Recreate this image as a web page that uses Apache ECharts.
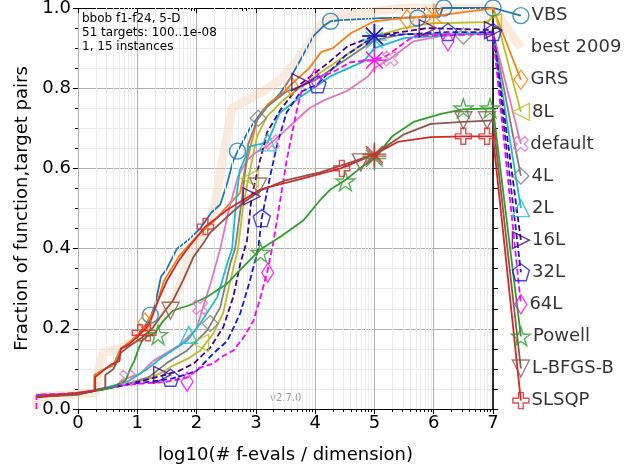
<!DOCTYPE html>
<html>
<head>
<meta charset="utf-8">
<script src="https://cdn.jsdelivr.net/npm/echarts@6.0.0/dist/echarts.min.js"></script>
<style>
  html, body { margin: 0; padding: 0; background: #fff; }
  #chart { width: 631px; height: 473px; }
</style>
</head>
<body>
<div id="chart"></div>
<script>
'use strict';

// right hand labels, top to bottom, and the height each one sits at
var names = ['VBS', 'best 2009', 'GRS', '8L', 'default', '4L', '2L', '16L', '32L', '64L', 'Powell', 'L-BFGS-B', 'SLSQP'];
var labelLevels = [0.981, 0.901, 0.821, 0.741, 0.661, 0.581, 0.501, 0.421, 0.341, 0.261, 0.181, 0.101, 0.021];

var xTickLabels = ['0', '1', '2', '3', '4', '5', '6', '7'];
var yTickLabels = ['0.0', '0.2', '0.4', '0.6', '0.8', '1.0'];

// ECDF curves: [log10(# f-evals / dimension), fraction of function,target pairs]
var vbs = [[-0.7, 0.035], [0, 0.038], [0.28, 0.045], [0.28, 0.085], [0.45, 0.1], [0.6, 0.11], [0.72, 0.15], [0.9, 0.17], [1.05, 0.19], [1.2, 0.22], [1.3, 0.26], [1.4, 0.33], [1.5, 0.35], [1.67, 0.4], [1.85, 0.42], [2.06, 0.45], [2.25, 0.49], [2.4, 0.51], [2.52, 0.565], [2.62, 0.62], [2.7, 0.645], [2.9, 0.7], [3.12, 0.745], [3.4, 0.785], [3.58, 0.825], [3.75, 0.87], [3.97, 0.93], [4.14, 0.955], [4.26, 0.967], [4.43, 0.97], [5.1, 0.975], [6.1, 0.978], [6.15, 1.0], [7, 1.0]];
var best2009 = [[-0.7, 0], [-0.7, 0.03], [0.3, 0.04], [0.35, 0.1], [0.42, 0.14], [0.7, 0.15], [0.95, 0.17], [1.2, 0.19], [1.45, 0.23], [1.7, 0.3], [1.95, 0.4], [2.1, 0.44], [2.3, 0.5], [2.4, 0.59], [2.5, 0.67], [2.6, 0.75], [2.85, 0.77], [3.1, 0.79], [3.4, 0.82], [3.7, 0.87], [3.9, 0.91], [4.1, 0.96], [4.4, 0.98], [4.9, 0.99], [5.5, 1.0], [7, 1.0]];
var grs = [[-0.7, 0.03], [0, 0.04], [0.28, 0.045], [0.28, 0.085], [0.45, 0.1], [0.6, 0.11], [0.72, 0.15], [0.9, 0.17], [1.1, 0.2], [1.3, 0.25], [1.45, 0.32], [1.7, 0.38], [2.0, 0.43], [2.3, 0.47], [2.56, 0.513], [2.73, 0.538], [2.82, 0.6], [2.92, 0.66], [3.02, 0.72], [3.2, 0.76], [3.47, 0.79], [3.6, 0.81], [3.9, 0.85], [4.1, 0.89], [4.3, 0.9], [4.6, 0.937], [5.0, 0.967], [5.5, 0.975], [6.0, 0.98], [6.9, 0.997], [7, 1.0]];
var l8 = [[-0.7, 0.03], [0, 0.038], [0.8, 0.06], [1.2, 0.075], [1.4, 0.09], [1.6, 0.108], [1.85, 0.125], [2.06, 0.145], [2.28, 0.188], [2.45, 0.24], [2.57, 0.32], [2.7, 0.4], [2.78, 0.5], [2.88, 0.58], [3.02, 0.68], [3.19, 0.73], [3.46, 0.77], [4.0, 0.83], [4.5, 0.88], [5.0, 0.93], [5.5, 0.95], [5.95, 0.962], [6.92, 0.965], [7.03, 0.99]];
var dflt = [[-0.7, 0.03], [0, 0.038], [0.6, 0.055], [0.8, 0.075], [1.05, 0.088], [1.27, 0.12], [1.44, 0.135], [1.72, 0.16], [2.0, 0.2], [2.1, 0.25], [2.25, 0.32], [2.4, 0.4], [2.55, 0.5], [2.7, 0.58], [2.85, 0.62], [3.0, 0.64], [3.19, 0.655], [3.46, 0.69], [3.9, 0.75], [4.14, 0.769], [4.55, 0.794], [4.89, 0.829], [5.0, 0.85], [5.27, 0.874], [5.66, 0.917], [6.12, 0.93], [7, 0.94]];
var l4 = [[-0.7, 0.03], [0, 0.038], [0.8, 0.06], [1.2, 0.08], [1.5, 0.115], [1.84, 0.146], [2.18, 0.196], [2.4, 0.254], [2.57, 0.364], [2.65, 0.4], [2.78, 0.54], [2.87, 0.66], [3.02, 0.72], [3.2, 0.755], [3.5, 0.79], [4.0, 0.82], [4.5, 0.87], [5.0, 0.92], [5.5, 0.935], [6.5, 0.935], [7, 0.94]];
var l2 = [[-0.7, 0.03], [0, 0.038], [0.8, 0.065], [1.17, 0.1], [1.39, 0.126], [1.84, 0.17], [2.06, 0.213], [2.35, 0.279], [2.52, 0.364], [2.6, 0.4], [2.68, 0.54], [2.73, 0.596], [2.9, 0.655], [3.2, 0.665], [3.4, 0.738], [3.75, 0.778], [4.26, 0.83], [4.82, 0.867], [5.0, 0.9], [5.5, 0.925], [6.5, 0.935], [7, 0.935]];
var l16 = [[-0.7, 0.03], [0, 0.038], [0.8, 0.06], [1.42, 0.083], [1.7, 0.095], [1.95, 0.113], [2.23, 0.153], [2.45, 0.204], [2.62, 0.28], [2.74, 0.364], [2.85, 0.42], [2.93, 0.53], [3.07, 0.62], [3.19, 0.69], [3.41, 0.745], [3.75, 0.81], [4.21, 0.862], [4.55, 0.905], [5.0, 0.93], [5.9, 0.95], [7, 0.945]];
var l32 = [[-0.7, 0.03], [0, 0.038], [0.8, 0.06], [1.56, 0.075], [1.8, 0.085], [2.0, 0.095], [2.28, 0.138], [2.52, 0.17], [2.74, 0.24], [2.9, 0.32], [3.04, 0.4], [3.1, 0.476], [3.24, 0.58], [3.36, 0.66], [3.52, 0.74], [3.75, 0.79], [4.04, 0.81], [4.5, 0.88], [5.0, 0.93], [6.24, 0.94], [7, 0.94]];
var l64 = [[-0.7, 0], [-0.7, 0.035], [0, 0.04], [0.8, 0.06], [1.5, 0.068], [1.84, 0.078], [2.06, 0.103], [2.28, 0.113], [2.4, 0.128], [2.62, 0.146], [2.79, 0.178], [2.96, 0.22], [3.08, 0.279], [3.2, 0.347], [3.3, 0.42], [3.52, 0.62], [3.69, 0.745], [3.8, 0.81], [3.97, 0.822], [4.3, 0.84], [4.6, 0.865], [5.0, 0.87], [5.2, 0.88], [5.66, 0.93], [7, 0.935]];
var powell = [[-0.7, 0.03], [0, 0.038], [0.5, 0.05], [0.8, 0.07], [0.88, 0.1], [0.95, 0.12], [1.02, 0.15], [1.08, 0.17], [1.15, 0.18], [1.3, 0.19], [1.44, 0.22], [1.6, 0.245], [1.9, 0.26], [2.18, 0.28], [2.52, 0.313], [2.69, 0.34], [3.07, 0.397], [3.42, 0.43], [3.8, 0.47], [4.08, 0.52], [4.26, 0.548], [4.5, 0.57], [4.8, 0.605], [5.0, 0.625], [5.3, 0.68], [5.66, 0.716], [6.12, 0.736], [6.5, 0.747], [7, 0.75]];
var lbfgsb = [[-0.7, 0.03], [0, 0.035], [0.46, 0.053], [0.46, 0.085], [0.6, 0.1], [0.72, 0.14], [0.85, 0.155], [1.05, 0.175], [1.25, 0.2], [1.44, 0.24], [1.6, 0.27], [1.77, 0.32], [1.95, 0.38], [2.1, 0.41], [2.23, 0.44], [2.52, 0.48], [2.79, 0.515], [3.08, 0.545], [3.5, 0.57], [4.08, 0.59], [4.5, 0.61], [5.0, 0.635], [5.5, 0.685], [5.95, 0.711], [6.5, 0.716], [7, 0.72]];
var slsqp = [[-0.7, 0.03], [0, 0.04], [0.29, 0.045], [0.29, 0.08], [0.42, 0.095], [0.55, 0.11], [0.7, 0.12], [0.72, 0.15], [0.85, 0.16], [1.0, 0.18], [1.2, 0.21], [1.35, 0.27], [1.5, 0.32], [1.7, 0.37], [1.9, 0.41], [2.15, 0.455], [2.52, 0.497], [3.08, 0.548], [3.75, 0.573], [4.43, 0.6], [5.0, 0.635], [5.39, 0.666], [5.95, 0.678], [6.5, 0.68], [7, 0.68]];

// marker points drawn along each curve
var vbsMarks = [[1.22, 0.234], [2.69, 0.643], [4.26, 0.967], [5.73, 0.975], [6.17, 1.0], [7.0, 1.0]];
var grsMarks = [[1.13, 0.216], [3.6, 0.805], [5.55, 0.972]];
var l8Marks = [[2.06, 0.165], [2.9, 0.575], [7.0, 0.965]];
var dfltMarks = [[0.83, 0.078], [2.06, 0.254], [3.27, 0.665], [5.27, 0.874]];
var l4Marks = [[2.23, 0.213], [3.04, 0.725], [6.5, 0.93]];
var l2Marks = [[1.87, 0.185], [3.2, 0.665]];
var l16Marks = [[1.42, 0.085], [2.93, 0.53], [3.75, 0.815], [5.9, 0.95], [7.0, 0.945]];
var l32Marks = [[1.56, 0.078], [3.1, 0.476], [4.04, 0.81], [6.24, 0.94], [7.0, 0.94]];
var l64Marks = [[1.84, 0.068], [3.2, 0.34], [4.0, 0.824], [6.24, 0.917]];
var powellMarks = [[1.35, 0.185], [3.08, 0.39], [4.51, 0.568], [6.5, 0.75], [6.95, 0.75]];
var lbfgsbMarks = [[1.56, 0.245], [3.04, 0.555], [4.77, 0.615], [6.5, 0.72], [6.9, 0.72]];
var slsqpMarks = [[1.05, 0.19], [1.18, 0.19], [2.15, 0.455], [4.45, 0.6], [6.5, 0.68], [6.9, 0.68]];

// median of the maximum budget (big asterisks), null where not drawn
var budgetX = [null, null, 6.0, 5, 5, 5, 5, 5, 5, 5, 5, 5, 5];
var budgetY = [null, null, 0.982, 0.93, 0.87, 0.93, 0.92, 0.93, 0.93, 0.87, 0.625, 0.63, 0.635];

var curves = [vbs, best2009, grs, l8, dflt, l4, l2, l16, l32, l64, powell, lbfgsb, slsqp];
var marks = [vbsMarks, [], grsMarks, l8Marks, dfltMarks, l4Marks, l2Marks, l16Marks, l32Marks, l64Marks, powellMarks, lbfgsbMarks, slsqpMarks];

var LABEL_X = 7.47;
var FONT = 'DejaVu Sans';

// plot frame: x 0..7 between GRID_L and 631 - GRID_R; a wider twin grid (-1..8)
// with the same scale carries the curves so they can run past the frame
var GRID_L = 78, GRID_R = 138;
var UNIT = (631 - GRID_L - GRID_R) / 7;

var TRI_LEFT = 'path://M0,10L18,0L18,20Z';
var TRI_RIGHT = 'path://M18,10L0,0L0,20Z';
var TRI_DOWN = 'path://M0,0L20,0L10,18Z';
var PENTAGON = 'path://M10,0L19.5,6.9L15.9,18.1L4.1,18.1L0.5,6.9Z';
var STAR = 'path://M10,0L12.4,7.2L20,7.2L13.8,11.6L16.2,18.8L10,14.4L3.8,18.8L6.2,11.6L0,7.2L7.6,7.2Z';
var PLUS = 'path://M7,0L13,0L13,7L20,7L20,13L13,13L13,20L7,20L7,13L0,13L0,7L7,7Z';
var ASTERISK = 'path://M10,0L10,20M0,10L20,10M3,3L17,17M3,17L17,3';

var looks = [
    { color: '#1f77b4', symbol: 'circle', size: 16 },
    { color: 'rgba(244,200,160,0.36)', width: 9, symbol: 'circle', size: 16, hidden: true },
    { color: '#ff7f0e', symbol: 'diamond', size: [14, 19] },
    { color: '#bcbd22', symbol: TRI_LEFT, size: 17 },
    { color: '#e377c2', symbol: PLUS, size: 16, rotate: 45, gap: -3 },
    { color: '#7f7f7f', symbol: 'diamond', size: 16 },
    { color: '#17becf', symbol: 'triangle', size: 17 },
    { color: '#4b0082', symbol: TRI_RIGHT, size: 17, dash: [6, 3] },
    { color: '#1a1ad4', symbol: PENTAGON, size: 17, dash: [6, 3] },
    { color: '#ff00ff', symbol: 'diamond', size: [12, 19], dash: [6, 3] },
    { color: '#2ca02c', symbol: STAR, size: 19 },
    { color: '#8c564b', symbol: TRI_DOWN, size: 17 },
    { color: '#d62728', symbol: PLUS, size: 16 }
];

// log spaced minor ticks / grid lines on the x axis
var xMinor = [];
for (var d = 0; d < 7; d++) {
    for (var k = 2; k < 10; k++) xMinor.push(d + Math.log10(k));
}

var series = [];

// faint minor grid for the log decades
series.push({
    type: 'line',
    data: [],
    z: 1,
    silent: true,
    markLine: {
        silent: true,
        symbol: 'none',
        label: { show: false },
        lineStyle: { color: '#ebebeb', width: 1, type: 'solid' },
        data: xMinor.map(function (v) { return { xAxis: v }; })
    }
});

curves.forEach(function (c, i) {
    var lk = looks[i];
    var pts = c.concat([[LABEL_X, labelLevels[i]]]);
    series.push({
        name: names[i],
        type: 'line',
        xAxisIndex: 4,
        yAxisIndex: 2,
        data: pts,
        symbol: 'none',
        silent: true,
        z: i === 1 ? 2 : 3 + i,
        lineStyle: {
            color: lk.color,
            width: lk.width || 1.8,
            type: lk.dash || 'solid'
        }
    });

    var markData = marks[i].map(function (p) { return p; });
    markData.push({
        value: [LABEL_X, labelLevels[i]],
        label: {
            show: true,
            position: 'right',
            distance: lk.gap !== undefined ? lk.gap : 2,
            formatter: names[i],
            fontSize: 18,
            color: '#000',
            fontFamily: FONT
        }
    });
    series.push({
        type: 'scatter',
        xAxisIndex: 4,
        yAxisIndex: 2,
        data: markData,
        silent: true,
        z: 20 + i,
        symbol: lk.symbol,
        symbolSize: lk.size,
        symbolRotate: lk.rotate || 0,
        itemStyle: {
            color: 'rgba(0,0,0,0)',
            borderColor: lk.hidden ? 'rgba(0,0,0,0)' : lk.color,
            borderWidth: lk.hidden ? 0 : 1.4
        }
    });
});

var budgetData = [];
budgetX.forEach(function (x, i) {
    if (x === null) return;
    budgetData.push({
        value: [x, budgetY[i]],
        itemStyle: { color: 'rgba(0,0,0,0)', borderColor: looks[i].color, borderWidth: 1.5 }
    });
});
series.push({
    type: 'scatter',
    xAxisIndex: 4,
    yAxisIndex: 2,
    data: budgetData,
    silent: true,
    z: 40,
    symbol: ASTERISK,
    symbolSize: 24
});

var axisText = { color: '#000', fontSize: 18, fontFamily: FONT };

var option = {
    animation: false,
    backgroundColor: '#fff',
    title: {
        text: 'bbob f1-f24, 5-D\n51 targets: 100..1e-08\n1, 15 instances',
        left: 82,
        top: 12,
        padding: 0,
        textStyle: { fontSize: 12, fontWeight: 'normal', lineHeight: 14, color: '#000', fontFamily: FONT }
    },
    graphic: [{
        type: 'text',
        left: 270,
        top: 393,
        silent: true,
        style: { text: 'v2.7.0', fill: '#999', font: '10px "DejaVu Sans"' }
    }],
    grid: [
        { left: GRID_L, right: GRID_R, top: 8, bottom: 64, containLabel: false, outerBoundsMode: 'none' },
        { left: GRID_L - UNIT, right: GRID_R - UNIT, top: 8, bottom: 64, containLabel: false, outerBoundsMode: 'none' }
    ],
    xAxis: [
        {
            type: 'value', min: 0, max: 7, interval: 1, position: 'bottom',
            name: 'log10(# f-evals / dimension)', nameLocation: 'middle', nameGap: 37,
            nameTextStyle: axisText,
            axisLine: { show: true, onZero: false, lineStyle: { color: '#000', width: 1.2 } },
            axisTick: { show: true, length: 5, lineStyle: { color: '#000' } },
            axisLabel: Object.assign({ margin: 5, formatter: function (v) { return xTickLabels[Math.round(v)]; } }, axisText),
            splitLine: { show: true, lineStyle: { color: '#b0b0b0', width: 1 } }
        },
        {
            type: 'value', min: 0, max: 7, position: 'bottom',
            axisLine: { show: false, onZero: false },
            axisTick: { show: true, length: 3, customValues: xMinor, lineStyle: { color: '#000' } },
            axisLabel: { show: false },
            splitLine: { show: false }
        },
        {
            type: 'value', min: 0, max: 7, interval: 1, position: 'top',
            axisLine: { show: true, onZero: false, lineStyle: { color: '#000', width: 1.2 } },
            axisTick: { show: true, inside: true, length: 5, lineStyle: { color: '#000' } },
            axisLabel: { show: false },
            splitLine: { show: false }
        },
        {
            type: 'value', min: 0, max: 7, position: 'top',
            axisLine: { show: false, onZero: false },
            axisTick: { show: true, inside: true, length: 3, customValues: xMinor, lineStyle: { color: '#000' } },
            axisLabel: { show: false },
            splitLine: { show: false }
        },
        {
            type: 'value', gridIndex: 1, min: -1, max: 8, show: false
        }
    ],
    yAxis: [
        {
            type: 'value', min: 0, max: 1, interval: 0.2, position: 'left',
            name: 'Fraction of function,target pairs', nameLocation: 'middle', nameGap: 36, nameRotate: 90,
            nameTextStyle: axisText,
            axisLine: { show: false, onZero: false },
            axisTick: { show: true, length: 5, lineStyle: { color: '#000' } },
            minorTick: { show: true, splitNumber: 4, length: 3, lineStyle: { color: '#000' } },
            axisLabel: Object.assign({ margin: 7, formatter: function (v) { return yTickLabels[Math.round(v * 5)]; } }, axisText),
            splitLine: { show: true, lineStyle: { color: '#b0b0b0', width: 1 } },
            minorSplitLine: { show: true, lineStyle: { color: '#ebebeb', width: 1 } }
        },
        {
            type: 'value', min: 0, max: 1, interval: 0.2, position: 'right',
            axisLine: { show: true, onZero: false, lineStyle: { color: '#000', width: 1.6 } },
            axisTick: { show: true, length: 5, lineStyle: { color: '#000' } },
            minorTick: { show: true, splitNumber: 4, length: 5, lineStyle: { color: '#000' } },
            axisLabel: { show: false },
            splitLine: { show: false }
        },
        {
            type: 'value', gridIndex: 1, min: 0, max: 1, show: false
        }
    ],
    series: series
};

var myChart = echarts.init(document.getElementById('chart'), null, { renderer: 'canvas' });
myChart.setOption(option);
</script>
</body>
</html>
